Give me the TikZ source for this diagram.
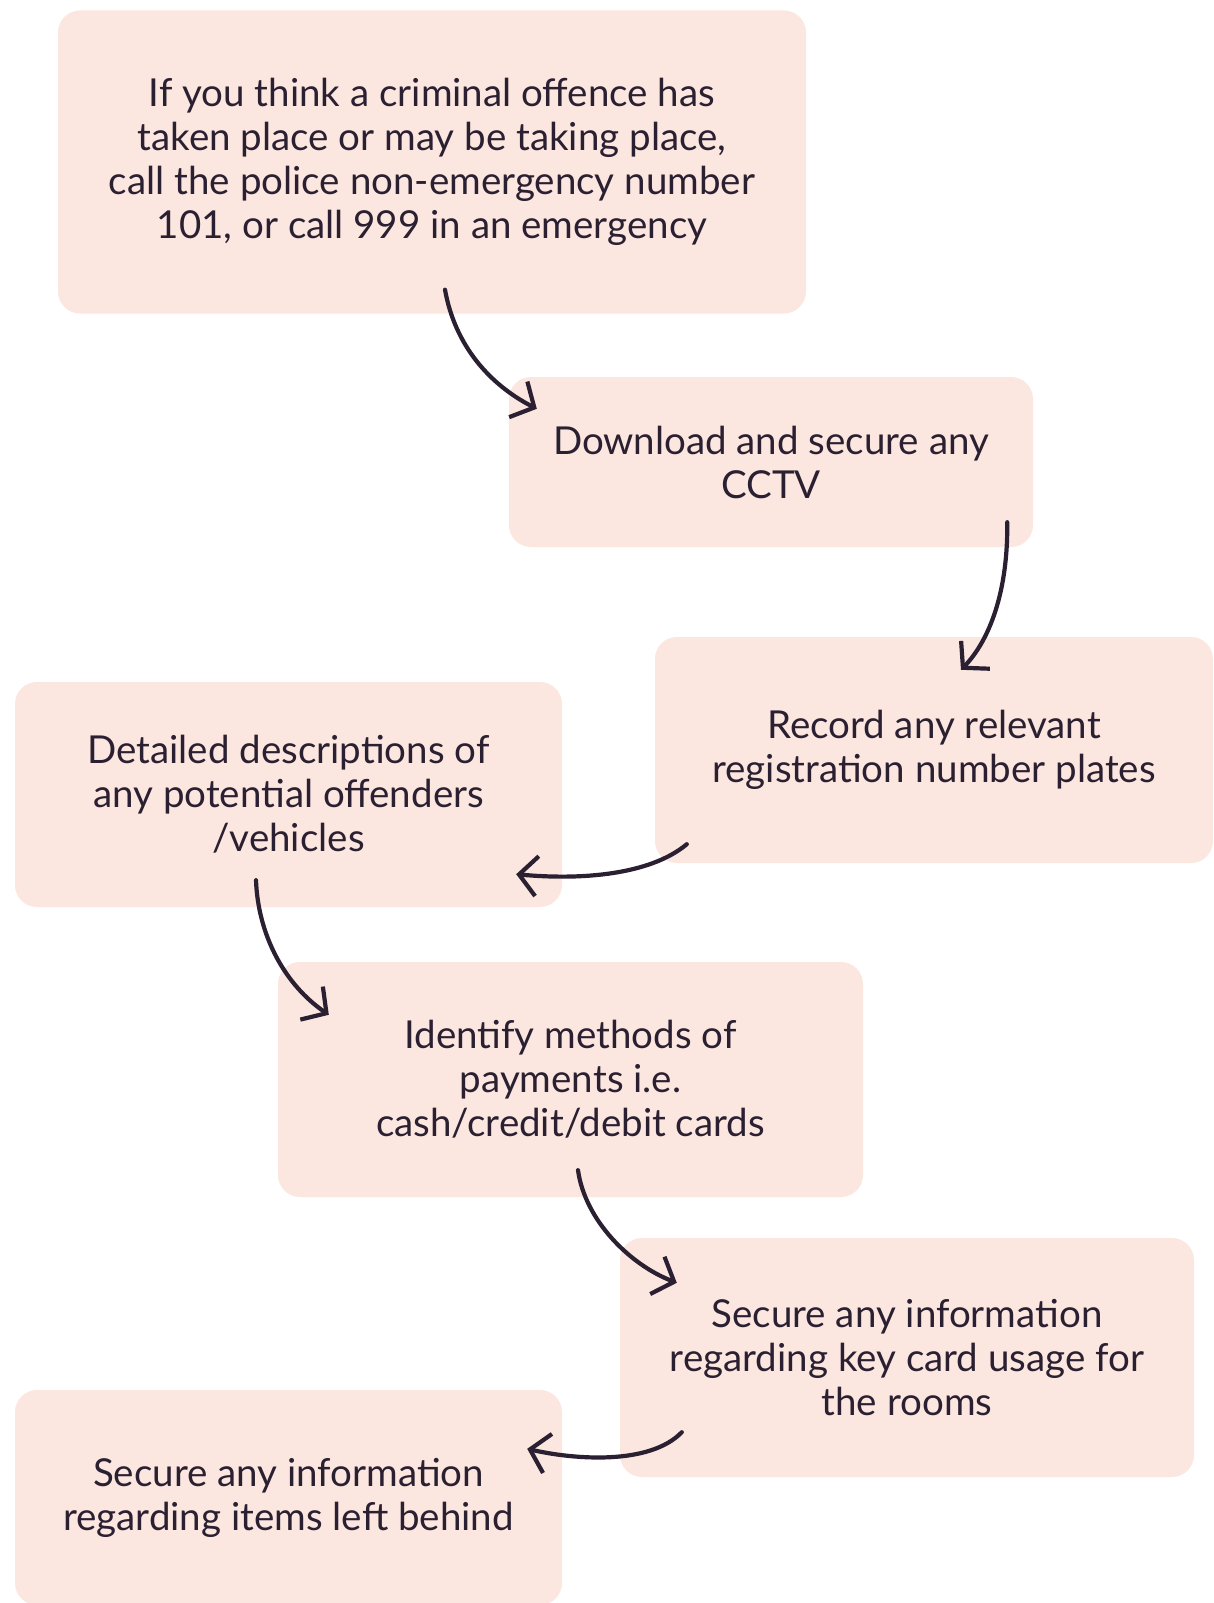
\documentclass[tikz,border=0pt]{standalone}
\usepackage{fontspec}
\setmainfont{Lato}
\usetikzlibrary{arrows.meta,calc}
\definecolor{boxfill}{HTML}{FBE7E0}
\definecolor{ink}{HTML}{2B2031}
\begin{document}
\begin{tikzpicture}[x=1pt,y=-1pt,
  box/.style={fill=boxfill, draw=none, rounded corners=22pt, inner sep=0pt,
    align=center, text=ink, font=\fontsize{38.5}{44}\selectfont},
  arr/.style={draw=ink, line width=4.2pt, line cap=round, line join=round,
    -{Straight Barb[length=18pt,width=40pt,line width=4.2pt]}}]
\useasboundingbox[fill=white] (0,0) rectangle (1214,1603);

\node[box, minimum width=748pt, minimum height=303pt] (b1) at (432,162)
  {If you think a criminal offence has\\taken place or may be taking place,\\call the police non-emergency number\\101, or call 999 in an emergency};
\node[box, minimum width=524pt, minimum height=170pt] (b2) at (771,462)
  {Download and secure any\\CCTV};
\node[box, minimum width=558pt, minimum height=226pt] (b3) at (934,750)
  {Record any relevant\\registration number plates};
\node[box, minimum width=547pt, minimum height=225pt] (b4) at (288.5,794.5)
  {Detailed descriptions of\\any potential offenders\\/vehicles};
\node[box, minimum width=585pt, minimum height=235pt] (b5) at (570.5,1079.5)
  {Identify methods of\\payments i.e.\\cash/credit/debit cards};
\node[box, minimum width=574pt, minimum height=239pt] (b6) at (907,1357.5)
  {Secure any information\\regarding key card usage for\\the rooms};
\node[box, minimum width=547pt, minimum height=215pt] (b7) at (288.5,1497.5)
  {Secure any information\\regarding items left behind};

\draw[arr] ([shift={(13,-24)}]b1.south) .. controls +(10,56) and +(-47,-24) .. ([shift={(28,32)}]b2.north west);
\draw[arr] ([shift={(-26,-25)}]b2.south east) .. controls +(1,68) and +(29,-30) .. ([shift={(27,33)}]b3.north);
\draw[arr] ([shift={(32,-19)}]b3.south west) .. controls +(-37,31) and +(64,6) .. ([shift={(-46,-33)}]b4.south east);
\draw[arr] ([shift={(-32.5,-27)}]b4.south) .. controls +(2,55) and +(-44,-30) .. ([shift={(51,53)}]b5.north west);
\draw[arr] ([shift={(7.5,-27)}]b5.south) .. controls +(7,50) and +(-47,-18) .. ([shift={(57,45)}]b6.north west);
\draw[arr] ([shift={(62,-45)}]b6.south west) .. controls +(-32,33) and +(48,11) .. ([shift={(-35,59)}]b7.north east);
\end{tikzpicture}
\end{document}
